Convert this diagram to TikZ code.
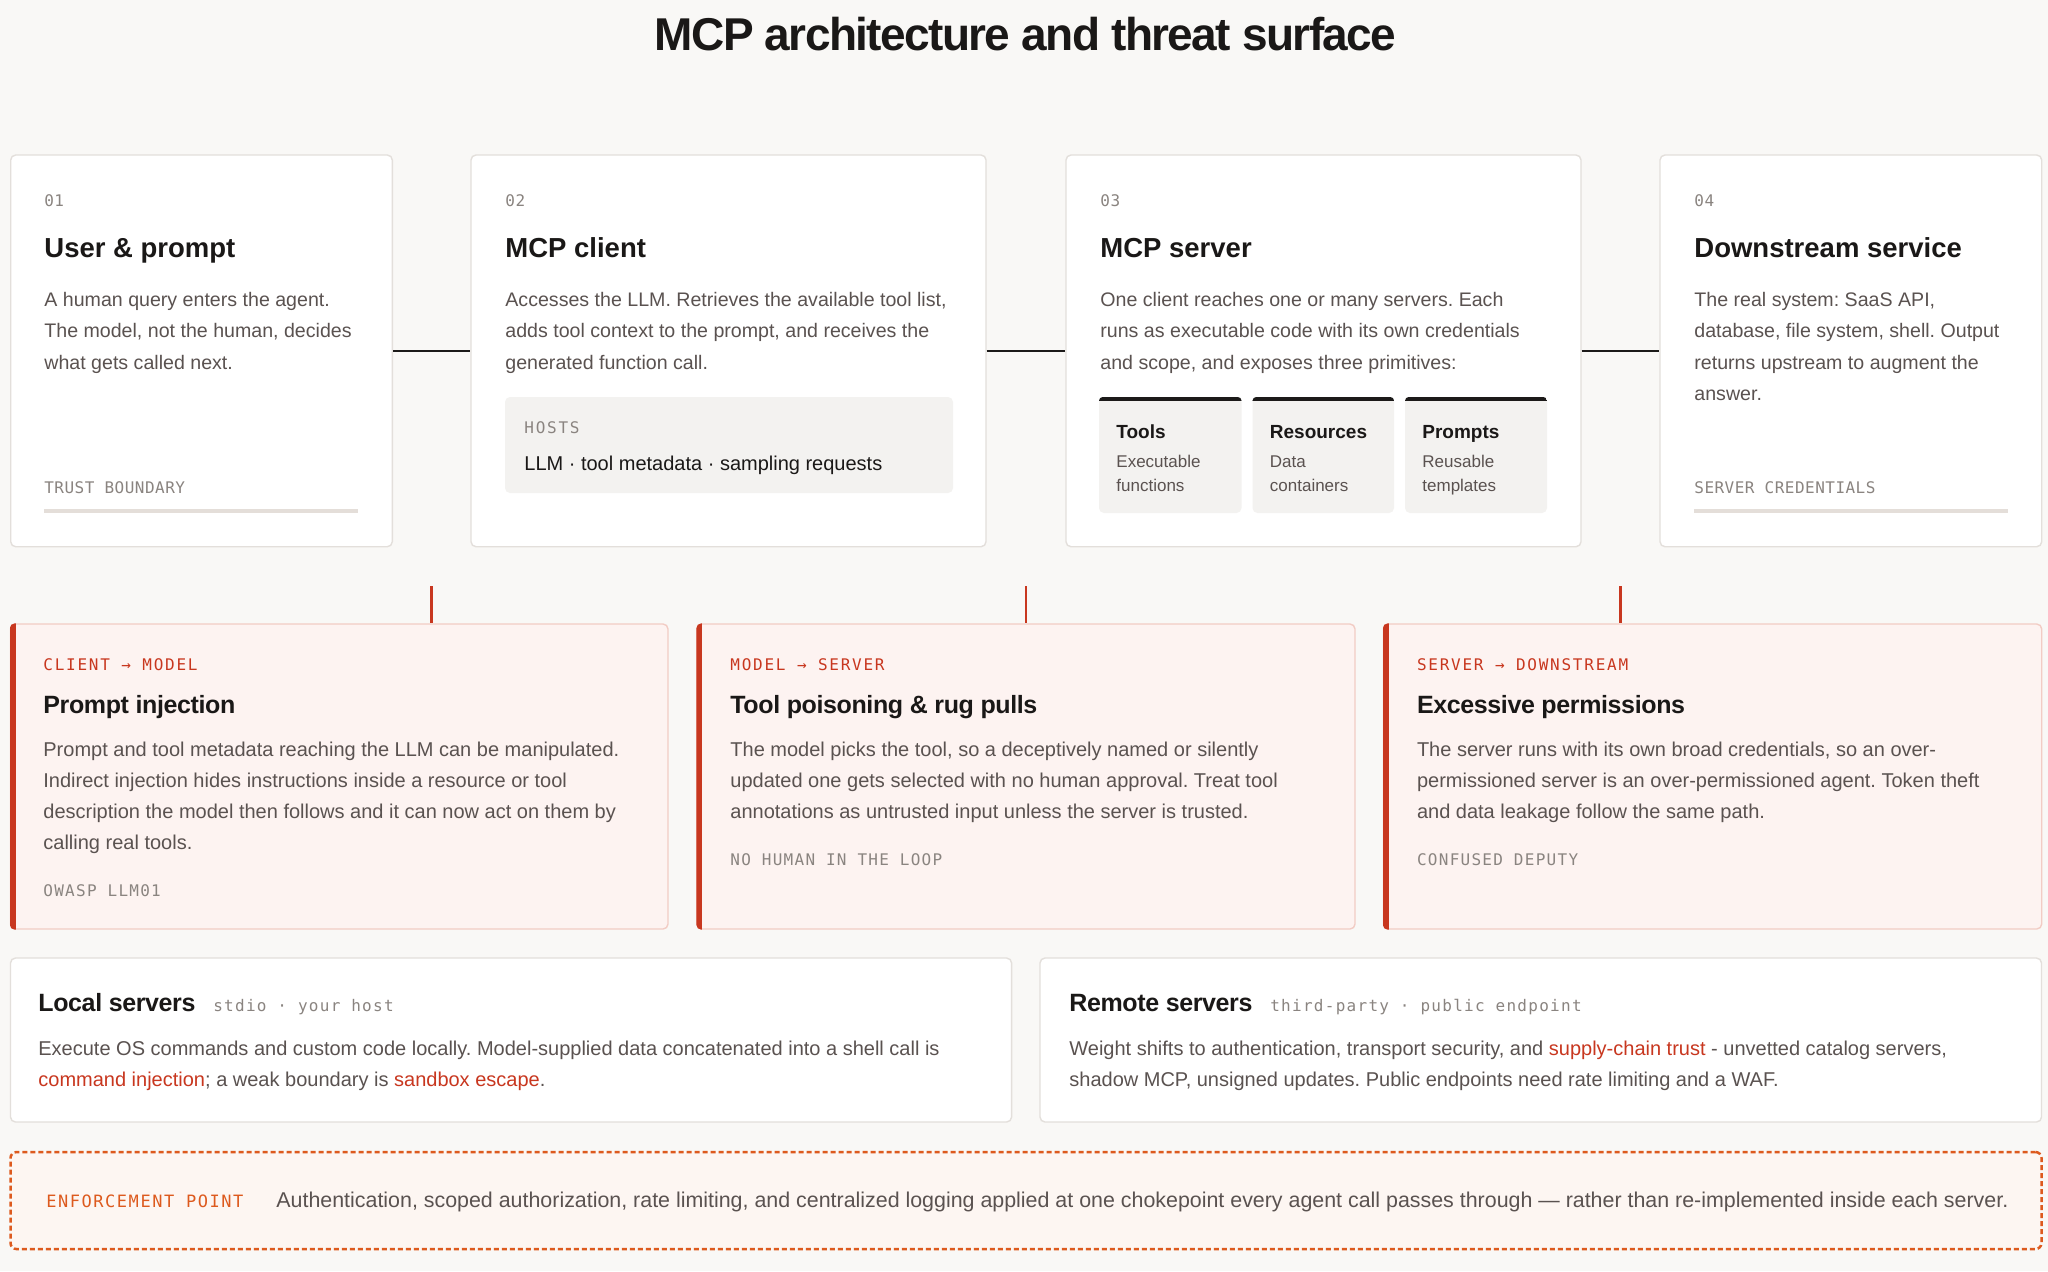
\documentclass[tikz,border=0pt]{standalone}
\usepackage{fontspec}
\setmainfont{Liberation Sans}
\newfontfamily\titlef[LetterSpace=-3.5]{Liberation Sans}
\newfontfamily\headf[LetterSpace=-1.5]{Liberation Sans}
\newfontfamily\monoA[LetterSpace=3]{DejaVu Sans Mono}
\newfontfamily\monoB[LetterSpace=8]{DejaVu Sans Mono}
\newfontfamily\monoC[LetterSpace=11]{DejaVu Sans Mono}
\newfontfamily\monoD[LetterSpace=9]{DejaVu Sans Mono}
\usetikzlibrary{fit}
\definecolor{bgc}{HTML}{F9F8F6}
\definecolor{cardborder}{HTML}{E3DFDB}
\definecolor{titlec}{HTML}{1A1817}
\definecolor{bodyc}{HTML}{5A5250}
\definecolor{monoc}{HTML}{8A8480}
\definecolor{barc}{HTML}{E4DED9}
\definecolor{hostsfill}{HTML}{F3F2F0}
\definecolor{redc}{HTML}{C8371F}
\definecolor{threatfill}{HTML}{FDF3F1}
\definecolor{threatborder}{HTML}{F2CCC4}
\definecolor{orangec}{HTML}{DD5A1E}
\definecolor{enffill}{HTML}{FDF6F2}
\definecolor{linec}{HTML}{1C1A19}
\newcommand{\hl}[1]{\textcolor{redc}{#1}}
\newcommand{\ml}[1]{\begin{tabular}[t]{@{}l@{}}#1\end{tabular}}
\frenchspacing
\begin{document}
\frenchspacing
\begin{tikzpicture}[x=0.5pt,y=-0.5pt,
  card/.style={draw=cardborder, fill=white, line width=0.7pt, rounded corners=2.5pt, inner sep=0pt},
  threat/.style={draw=threatborder, fill=threatfill, line width=0.7pt, rounded corners=2.5pt, inner sep=0pt},
  softbox/.style={fill=hostsfill, rounded corners=2.5pt, inner sep=0pt},
  enf/.style={draw=orangec, fill=enffill, line width=1.25pt, dash pattern=on 2.5pt off 1.5pt, rounded corners=3pt, inner sep=0pt},
  link/.style={draw=linec, line width=1.35pt},
  redlink/.style={draw=redc, line width=1.3pt},
  txt/.style={inner sep=0pt, anchor=base west},
  body/.style={txt, font=\frenchspacing\fontsize{9.8}{15.6}\selectfont, text=bodyc},
  tbody/.style={txt, font=\frenchspacing\fontsize{10}{15.5}\selectfont, text=bodyc},
  num/.style={txt, font=\monoA\fontsize{8}{10}\selectfont, text=monoc},
  foot/.style={txt, font=\monoA\fontsize{8}{10}\selectfont, text=monoc},
  tag/.style={txt, font=\monoB\fontsize{8}{10}\selectfont, text=monoc},
  redtag/.style={txt, font=\monoC\fontsize{8}{10}\selectfont, text=redc},
  ctitle/.style={txt, font=\fontsize{13.75}{16}\selectfont\bfseries, text=titlec},
  ttitle/.style={txt, font=\headf\fontsize{12.5}{15}\selectfont\bfseries, text=titlec},
  ptitle/.style={txt, font=\fontsize{9.5}{12}\selectfont\bfseries, text=titlec},
  ptext/.style={txt, font=\fontsize{8.5}{12}\selectfont, text=bodyc},
  hosttext/.style={txt, font=\fontsize{10}{12}\selectfont, text=titlec}
]
\useasboundingbox (0,0) rectangle (2048,1271);
\fill[bgc] (0,0) rectangle (2048,1271);

% title
\node[inner sep=0pt, anchor=base, font=\titlef\fontsize{23}{26}\selectfont\bfseries, text=titlec] (title) at (1025.5,50.5) {MCP architecture and threat surface};

% top cards
\node[card, fit={(10.7,155)(392.3,546.7)}] (c1) {};
\node[card, fit={(471,155)(986,546.7)}] (c2) {};
\node[card, fit={(1066,155)(1581,546.7)}] (c3) {};
\node[card, fit={(1660,155)(2041.7,546.7)}] (c4) {};
\draw[link] (c1.east) -- (c2.west);
\draw[link] (c2.east) -- (c3.west);
\draw[link] (c3.east) -- (c4.west);

% card 1
\node[num] (n1) at (44,206.5) {01};
\node[ctitle] (h1) at (44,257) {User \& prompt};
\node[body] (d1) at (44,306.7) {\ml{A human query enters the agent.\\The model, not the human, decides\\what gets called next.}};
\node[foot] (f1) at (44,493) {TRUST BOUNDARY};
\fill[barc] (44,509.2) rectangle (358,512.9);

% card 2
\node[num] (n2) at (505,206.5) {02};
\node[ctitle] (h2) at (505,257) {MCP client};
\node[body] (d2) at (505,306.7) {\ml{Accesses the LLM. Retrieves the available tool list,\\adds tool context to the prompt, and receives the\\generated function call.}};
\node[softbox, fit={(505,397)(953,493)}] (hosts) {};
\node[txt, font=\monoC\fontsize{8}{10}\selectfont, text=monoc] (hostsl) at (524,433.5) {HOSTS};
\node[hosttext] (hostst) at (524,470) {LLM · tool metadata · sampling requests};

% card 3
\node[num] (n3) at (1100,206.5) {03};
\node[ctitle] (h3) at (1100,257) {MCP server};
\node[body] (d3) at (1100,306.7) {\ml{One client reaches one or many servers. Each\\runs as executable code with its own credentials\\and scope, and exposes three primitives:}};
\node[softbox, fit={(1099,397)(1241.5,513)}] (p1) {};
\node[softbox, fit={(1252.5,397)(1394,513)}] (p2) {};
\node[softbox, fit={(1405,397)(1547,513)}] (p3) {};
\foreach \p in {p1,p2,p3}{
  \begin{scope}
    \clip[rounded corners=2.5pt] (\p.south west) rectangle (\p.north east);
    \fill[linec] (\p.north west) rectangle ([yshift=-2pt]\p.north east);
  \end{scope}
}
\node[ptitle] (p1t) at (1116,438) {Tools};
\node[ptext] (p1d) at (1116,467) {\ml{Executable\\functions}};
\node[ptitle] (p2t) at (1269.5,438) {Resources};
\node[ptext] (p2d) at (1269.5,467) {\ml{Data\\containers}};
\node[ptitle] (p3t) at (1422,438) {Prompts};
\node[ptext] (p3d) at (1422,467) {\ml{Reusable\\templates}};

% card 4
\node[num] (n4) at (1694,206.5) {04};
\node[ctitle] (h4) at (1694,257) {Downstream service};
\node[body] (d4) at (1694,306.7) {\ml{The real system: SaaS API,\\database, file system, shell. Output\\returns upstream to augment the\\answer.}};
\node[foot] (f4) at (1694,493) {SERVER CREDENTIALS};
\fill[barc] (1694,509.2) rectangle (2008,512.9);

% threat cards
\node[threat, fit={(10.5,624)(668,929)}] (t1) {};
\node[threat, fit={(697,624)(1355,929)}] (t2) {};
\node[threat, fit={(1383.5,624)(2041.7,929)}] (t3) {};
\foreach \t in {t1,t2,t3}{
  \begin{scope}
    \clip[rounded corners=2.5pt] (\t.south west) rectangle (\t.north east);
    \fill[redc] (\t.south west) rectangle ([xshift=2.9pt]\t.north west);
  \end{scope}
}
\coordinate (s1) at (431.5,586);
\coordinate (s2) at (1026,586);
\coordinate (s3) at (1620.5,586);
\draw[redlink] (s1) -- (s1 |- t1.north);
\draw[redlink] (s2) -- (s2 |- t2.north);
\draw[redlink] (s3) -- (s3 |- t3.north);

\node[redtag] (l1) at (43,670) {CLIENT → MODEL};
\node[ttitle] (th1) at (43,713.3) {Prompt injection};
\node[tbody] (tb1) at (43,756.7) {\ml{Prompt and tool metadata reaching the LLM can be manipulated.\\Indirect injection hides instructions inside a resource or tool\\description the model then follows and it can now act on them by\\calling real tools.}};
\node[tag] (tf1) at (43,896.5) {OWASP LLM01};

\node[redtag] (l2) at (730,670) {MODEL → SERVER};
\node[ttitle] (th2) at (730,713.3) {Tool poisoning \& rug pulls};
\node[tbody] (tb2) at (730,756.7) {\ml{The model picks the tool, so a deceptively named or silently\\updated one gets selected with no human approval. Treat tool\\annotations as untrusted input unless the server is trusted.}};
\node[tag] (tf2) at (730,865) {NO HUMAN IN THE LOOP};

\node[redtag] (l3) at (1416.6,670) {SERVER → DOWNSTREAM};
\node[ttitle] (th3) at (1416.6,713.3) {Excessive permissions};
\node[tbody] (tb3) at (1416.6,756.7) {\ml{The server runs with its own broad credentials, so an over-\\permissioned server is an over-permissioned agent. Token theft\\and data leakage follow the same path.}};
\node[tag] (tf3) at (1416.6,865) {CONFUSED DEPUTY};

% bottom boxes
\node[card, fit={(10.5,958)(1011.6,1122)}] (b1) {};
\node[card, fit={(1040,958)(2041.5,1122)}] (b2) {};
\node[ttitle] (bt1) at (38,1011) {Local servers};
\node[tag, anchor=base west] (bm1) at ([xshift=8.5pt]bt1.base east) {stdio · your host};
\node[tbody] (bd1) at (38,1055) {\ml{Execute OS commands and custom code locally. Model-supplied data concatenated into a shell call is\\\hl{command injection}; a weak boundary is \hl{sandbox escape}.}};
\node[ttitle] (bt2) at (1069,1011) {Remote servers};
\node[tag, anchor=base west] (bm2) at ([xshift=8.5pt]bt2.base east) {third-party · public endpoint};
\node[tbody] (bd2) at (1069,1055) {\ml{Weight shifts to authentication, transport security, and \hl{supply-chain trust} - unvetted catalog servers,\\shadow MCP, unsigned updates. Public endpoints need rate limiting and a WAF.}};

% enforcement point
\node[enf, fit={(10.5,1152)(2041.5,1249)}] (e) {};
\node[txt, font=\monoD\fontsize{8.5}{10}\selectfont, text=orangec] (el) at (46,1207) {ENFORCEMENT POINT};
\node[txt, font=\frenchspacing\fontsize{10.7}{13}\selectfont, text=bodyc] (et) at (276,1207) {Authentication, scoped authorization, rate limiting, and centralized logging applied at one chokepoint every agent call passes through — rather than re-implemented inside each server.};
\end{tikzpicture}
\end{document}
